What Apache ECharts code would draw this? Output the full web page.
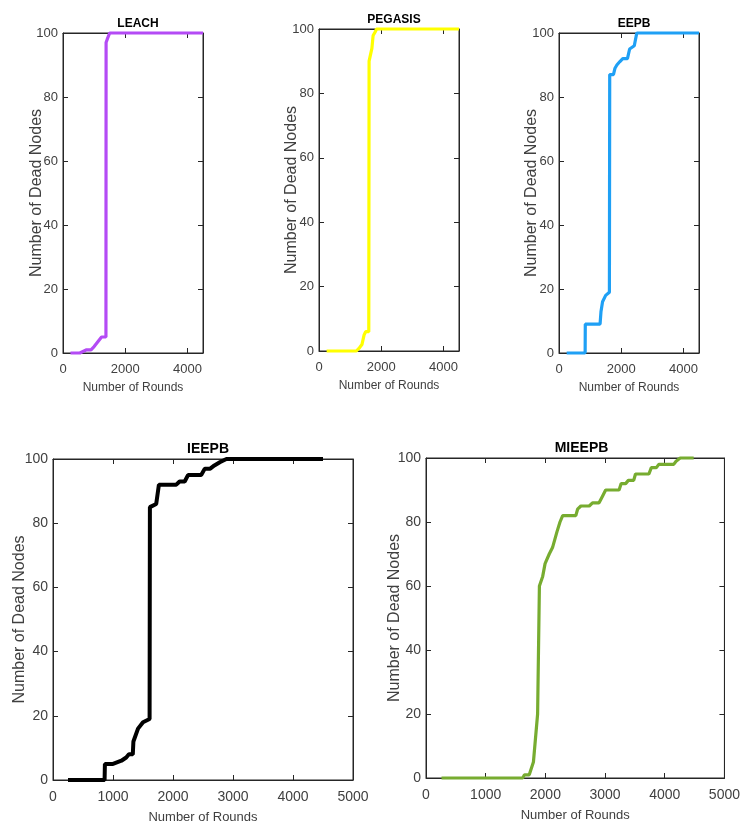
<!DOCTYPE html>
<html>
<head>
<meta charset="utf-8">
<script src="https://cdn.jsdelivr.net/npm/echarts@6/dist/echarts.min.js"></script>
<style>
html,body{margin:0;padding:0;background:#fff;}
#chart{width:743px;height:827px;}
</style>
</head>
<body>
<div id="chart"></div>
<script>
// Data: [rounds, dead nodes]
const leachData = [[240,0],[540,0],[760,1],[900,1],[1000,2],[1120,3.5],[1240,5],[1380,5],[1385,97],[1420,98],[1500,100],[4500,100]];
const pegasisData = [[245,0],[1200,0],[1300,1],[1380,2],[1450,5],[1500,6],[1600,6],[1610,90],[1700,94],[1740,98],[1800,99],[1850,100],[4500,100]];
const eepbData = [[247,0],[840,0],[845,9],[1320,9],[1350,13],[1400,16],[1500,18],[1620,19],[1630,87],[1750,87],[1800,89],[1860,90],[1950,91],[2050,92],[2200,92],[2270,95],[2420,96],[2500,100],[4500,100]];
const ieepbData = [[250,0],[860,0],[865,5],[1000,5],[1140,6],[1220,7],[1265,8],[1330,8],[1340,12],[1417,16],[1500,18],[1610,19],[1615,85],[1720,86],[1765,92],[2055,92],[2110,93],[2195,93],[2250,95],[2470,95],[2530,97],[2620,97],[2690,98],[2780,99],[2890,100],[4500,100]];
const mieepbData = [[260,0],[1620,0],[1650,1],[1730,1],[1800,5],[1870,20],[1900,60],[1955,63],[1995,67],[2065,70],[2120,72],[2195,77],[2245,80],[2290,82],[2510,82],[2540,84],[2595,85],[2735,85],[2790,86],[2900,86],[2955,88],[3010,90],[3235,90],[3270,92],[3345,92],[3390,93],[3480,93],[3510,95],[3735,95],[3775,97],[3860,97],[3900,98],[4150,98],[4190,99],[4260,100],[4485,100]];

const titles = ['LEACH','PEGASIS','EEPB','IEEPB','MIEEPB'];
const colors = ['#B44BF5','#FFFF00','#1FA0F5','#000000','#77AC30'];
const xMaxs = [4500,4500,4500,5000,5000];
const xIntervals = [2000,2000,2000,1000,1000];
const xName = 'Number of Rounds';
const yName = 'Number of Dead Nodes';
const allData = [leachData,pegasisData,eepbData,ieepbData,mieepbData];

// layout boxes [left, top, right, bottom] in px
const boxes = [
  [63,33,203,353],
  [319,29,459,351],
  [559,33,699,353],
  [53,459,353,780],
  [426,458,727,778]
];
const small = [true,true,true,false,false];
const yNameGaps = [18,19,19,25,23];
const axisColor = '#262626';
const labelColor = '#404040';
const FONT = 'Liberation Sans, Arial, sans-serif';

const grid = [], xAxis = [], yAxis = [], series = [], title = [];
const fmt = v => String(v);
function mkTick(){ return {show: true, inside: true, length: 5, lineStyle: {color: axisColor, width: 1}}; }
boxes.forEach((b, i) => {
  const fs = small[i] ? 13 : 14;
  grid.push({left: b[0], top: b[1], width: b[2]-b[0], height: b[3]-b[1], show: true, borderColor: axisColor, borderWidth: 1, containLabel: false});
  title.push({
    text: titles[i], left: (b[0]+b[2])/2, top: b[1] - (small[i] ? 20 : 22), textAlign: 'center',
    textStyle: {fontFamily: FONT, fontWeight: 'bold', fontSize: small[i] ? 12 : 14, color: '#000'}
  });
  xAxis.push({
    gridIndex: i, type: 'value', min: 0, max: xMaxs[i], interval: xIntervals[i], position: 'bottom',
    axisLine: {show: true, onZero: false, lineStyle: {color: axisColor, width: 1}},
    name: xName, nameLocation: 'middle', nameGap: small[i] ? 29 : 31, nameMoveOverlap: false,
    nameTextStyle: {fontFamily: FONT, fontSize: small[i] ? 12 : 13, color: labelColor},
    axisTick: mkTick(),
    axisLabel: {fontFamily: FONT, fontSize: fs, color: labelColor, margin: 10, formatter: fmt, showMaxLabel: i >= 3},
    splitLine: {show: false}
  });
  xAxis.push({
    gridIndex: i, type: 'value', min: 0, max: xMaxs[i], interval: xIntervals[i], position: 'top',
    axisLine: {show: true, onZero: false, lineStyle: {color: axisColor, width: 1}},
    axisTick: mkTick(),
    axisLabel: {show: false}, splitLine: {show: false}
  });
  yAxis.push({
    gridIndex: i, type: 'value', min: 0, max: 100, interval: 20, position: 'left',
    axisLine: {show: true, onZero: false, lineStyle: {color: axisColor, width: 1}},
    name: yName, nameLocation: 'middle', nameGap: yNameGaps[i], nameRotate: 90, nameMoveOverlap: false,
    nameTextStyle: {fontFamily: FONT, fontSize: 16, color: labelColor},
    axisTick: mkTick(),
    axisLabel: {fontFamily: FONT, fontSize: fs, color: labelColor, margin: 5, formatter: fmt},
    splitLine: {show: false}
  });
  yAxis.push({
    gridIndex: i, type: 'value', min: 0, max: 100, interval: 20, position: 'right',
    axisLine: {show: true, onZero: false, lineStyle: {color: axisColor, width: 1}},
    axisTick: mkTick(),
    axisLabel: {show: false}, splitLine: {show: false}
  });
  series.push({
    type: 'line', xAxisIndex: 2*i, yAxisIndex: 2*i, data: allData[i],
    showSymbol: false, symbol: 'none', smooth: false, clip: false,
    lineStyle: {color: colors[i], width: i === 3 ? 4 : 3.2},
    z: 3
  });
});

const chart = echarts.init(document.getElementById('chart'), null, {renderer: 'canvas'});
chart.setOption({
  animation: false,
  backgroundColor: '#fff',
  title, grid, xAxis, yAxis, series
});
</script>
</body>
</html>
